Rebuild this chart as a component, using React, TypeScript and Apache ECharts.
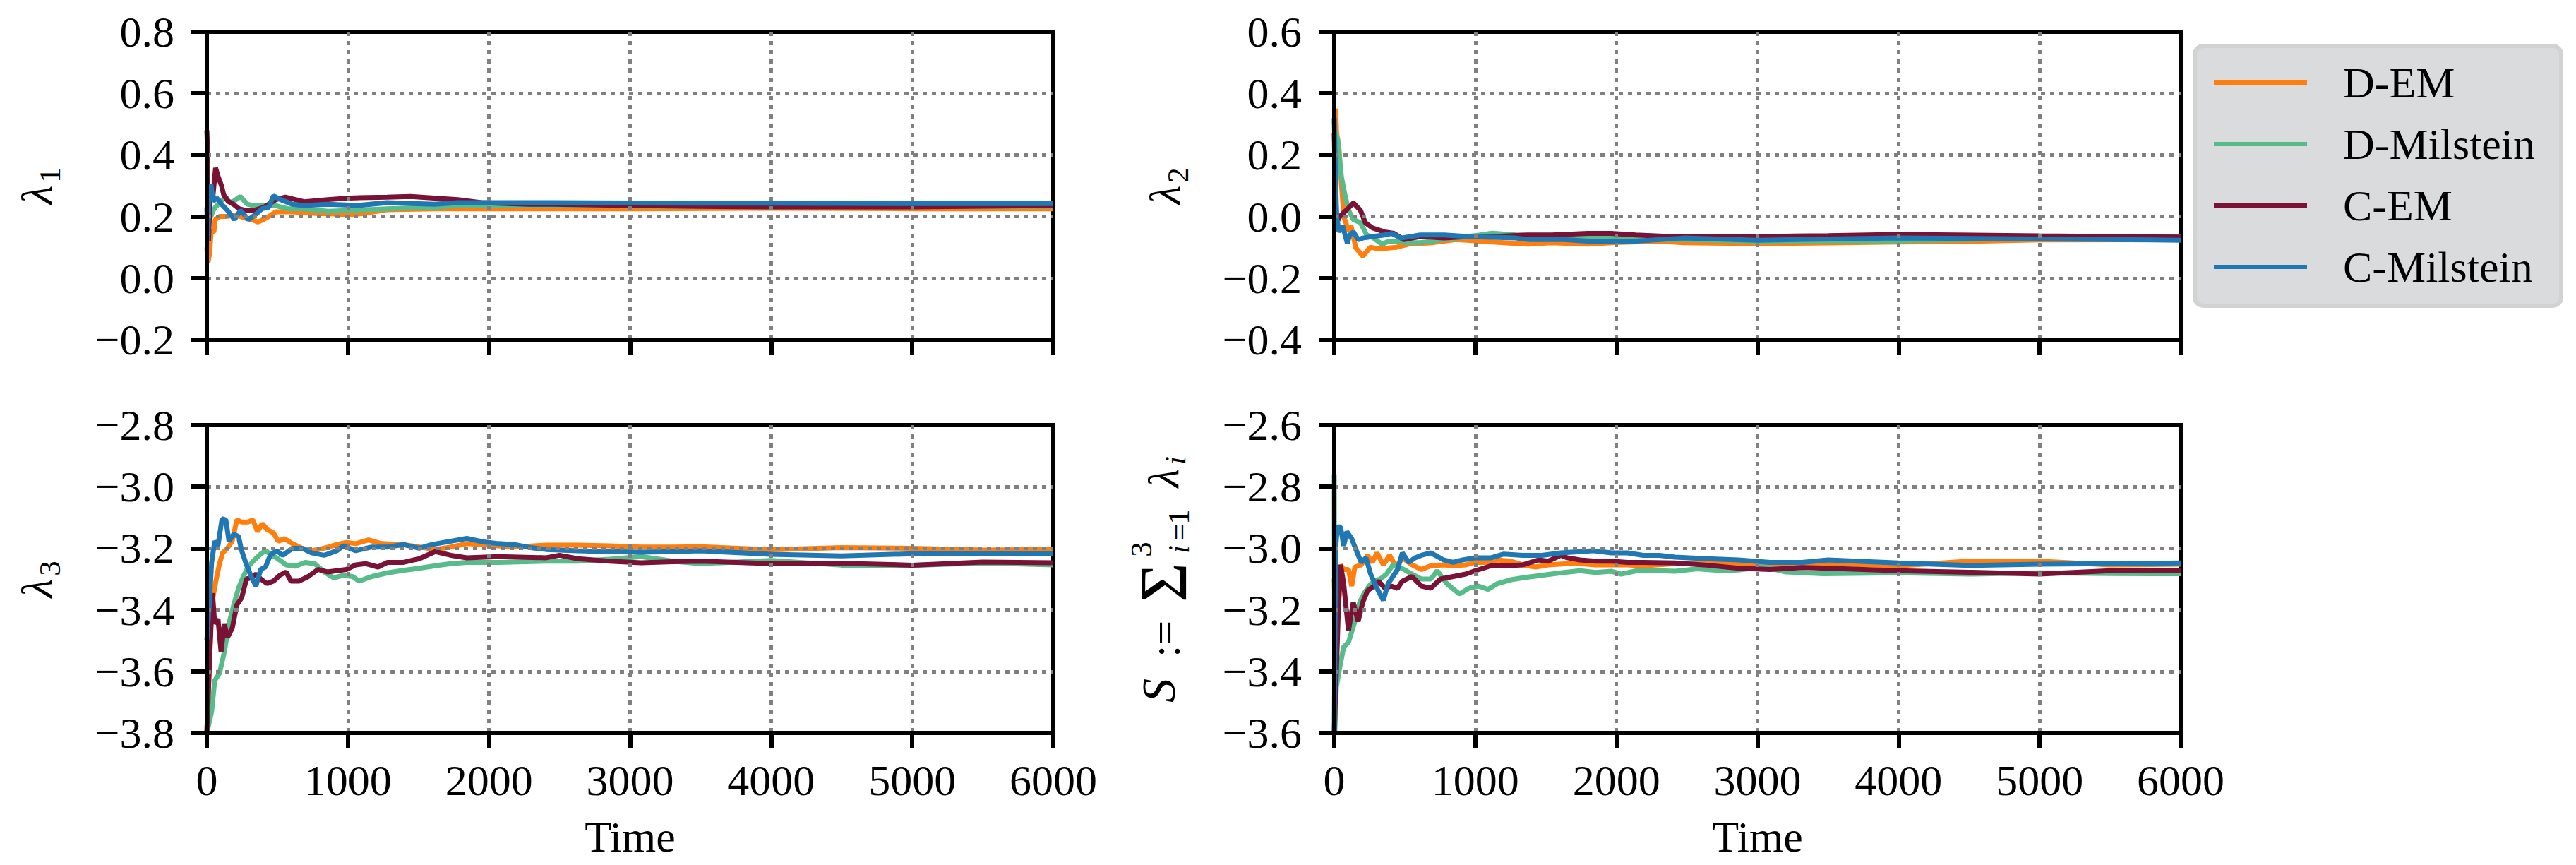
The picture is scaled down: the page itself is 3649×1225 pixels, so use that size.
import { useEffect, useRef } from 'react';
import * as echarts from 'echarts';

// series names / colours, in drawing order (last one on top)
const NAMES = ['D-EM', 'D-Milstein', 'C-EM', 'C-Milstein'];
const COLORS = ['#FF7F0E', '#57BB8A', '#7A1236', '#1F77B4'];

const TIME_MAX = 6000;
const TIME_STEP = 1000;
// y ranges per panel: [min, max], ticks every 0.2
const Y_RANGES = [
  [-0.2, 0.8],
  [-0.4, 0.6],
  [-3.8, -2.8],
  [-3.6, -2.6],
];

// ---- panel 1: lambda_1 ----
const D_EM_1 = [[0, 0.1], [8, 0.05], [20, 0.08], [30, 0.15], [50, 0.15], [60, 0.19], [90, 0.2], [137, 0.2], [204, 0.205], [240, 0.2], [271, 0.195], [320, 0.19], [363, 0.182], [400, 0.19], [439, 0.2], [490, 0.215], [606, 0.215], [774, 0.21], [900, 0.208], [1008, 0.205], [1109, 0.21], [1276, 0.222], [1611, 0.225], [1946, 0.225], [2449, 0.225], [3000, 0.225], [4000, 0.227], [5000, 0.225], [6000, 0.225]];
const D_MIL_1 = [[0, 0.2], [20, 0.19], [45, 0.22], [60, 0.23], [100, 0.25], [137, 0.263], [160, 0.245], [190, 0.25], [238, 0.265], [288, 0.24], [338, 0.235], [405, 0.235], [490, 0.235], [573, 0.225], [690, 0.225], [858, 0.217], [1025, 0.22], [1276, 0.225], [1611, 0.23], [1779, 0.235], [2449, 0.235], [3000, 0.234], [4000, 0.232], [5000, 0.233], [6000, 0.233]];
const C_EM_1 = [[0, 0.48], [5, 0.42], [12, 0.12], [25, 0.28], [40, 0.25], [62, 0.358], [80, 0.33], [104, 0.3], [120, 0.27], [150, 0.25], [188, 0.24], [230, 0.225], [271, 0.22], [338, 0.22], [405, 0.23], [490, 0.255], [556, 0.263], [690, 0.248], [858, 0.255], [1008, 0.26], [1276, 0.263], [1444, 0.265], [1611, 0.26], [1779, 0.255], [1946, 0.245], [2281, 0.24], [2449, 0.24], [3000, 0.236], [3500, 0.233], [4000, 0.231], [5000, 0.231], [6000, 0.236]];
const C_MIL_1 = [[0, 0.23], [8, 0.12], [15, 0.28], [28, 0.305], [45, 0.25], [70, 0.26], [104, 0.24], [146, 0.22], [196, 0.19], [238, 0.22], [296, 0.19], [355, 0.21], [389, 0.225], [439, 0.23], [472, 0.267], [523, 0.255], [606, 0.24], [690, 0.236], [858, 0.24], [1075, 0.236], [1276, 0.245], [1611, 0.24], [1779, 0.245], [2449, 0.245], [3000, 0.244], [4000, 0.243], [5000, 0.242], [6000, 0.242]];

// ---- panel 2: lambda_2 ----
const D_EM_2 = [[0, 0.3], [10, 0.35], [17, 0.27], [34, 0.22], [42, 0.16], [68, 0.0], [102, -0.048], [119, -0.03], [153, -0.102], [203, -0.129], [254, -0.1], [322, -0.105], [441, -0.1], [525, -0.09], [695, -0.085], [864, -0.075], [1034, -0.08], [1203, -0.085], [1373, -0.09], [1542, -0.085], [1797, -0.09], [1966, -0.085], [2305, -0.08], [2475, -0.085], [3000, -0.088], [3500, -0.086], [4000, -0.083], [4500, -0.081], [5000, -0.076], [6000, -0.075]];
const D_MIL_2 = [[0, 0.28], [25, 0.25], [51, 0.128], [76, 0.07], [102, 0.02], [136, -0.01], [186, -0.02], [230, -0.06], [271, -0.068], [339, -0.09], [390, -0.08], [441, -0.08], [508, -0.085], [610, -0.085], [695, -0.08], [780, -0.075], [864, -0.07], [1034, -0.06], [1119, -0.054], [1288, -0.06], [1627, -0.065], [1966, -0.07], [2305, -0.075], [2475, -0.075], [3000, -0.08], [4000, -0.079], [5000, -0.07], [5500, -0.064], [6000, -0.065]];
const C_EM_2 = [[0, 0.27], [8, 0.1], [17, -0.02], [40, 0.0], [85, 0.02], [136, 0.044], [186, 0.02], [220, -0.02], [271, -0.037], [356, -0.05], [424, -0.055], [492, -0.075], [610, -0.065], [780, -0.07], [949, -0.065], [1119, -0.065], [1373, -0.06], [1542, -0.06], [1797, -0.055], [1966, -0.055], [2136, -0.06], [2390, -0.065], [3000, -0.065], [3500, -0.062], [4000, -0.058], [5000, -0.063], [6000, -0.067]];
const C_MIL_2 = [[0, 0.32], [8, 0.15], [17, 0.0], [34, -0.05], [59, -0.03], [93, -0.087], [110, -0.06], [136, -0.05], [169, -0.075], [203, -0.07], [271, -0.065], [356, -0.06], [407, -0.055], [475, -0.07], [610, -0.06], [780, -0.06], [949, -0.065], [1288, -0.07], [1373, -0.075], [1627, -0.075], [1797, -0.08], [2136, -0.08], [2475, -0.07], [3000, -0.077], [3500, -0.073], [4000, -0.07], [5000, -0.073], [6000, -0.077]];

// ---- panel 3: lambda_3 ----
const D_EM_3 = [[0, -3.8], [15, -3.6], [34, -3.384], [67, -3.3], [90, -3.25], [112, -3.215], [146, -3.2], [180, -3.177], [213, -3.108], [247, -3.115], [292, -3.115], [326, -3.108], [360, -3.146], [393, -3.12], [427, -3.139], [472, -3.15], [506, -3.177], [551, -3.169], [607, -3.185], [674, -3.2], [742, -3.208], [831, -3.2], [921, -3.188], [989, -3.181], [1056, -3.185], [1146, -3.173], [1236, -3.185], [1393, -3.188], [1506, -3.196], [1618, -3.204], [1730, -3.196], [1843, -3.185], [1955, -3.188], [2180, -3.196], [2404, -3.19], [2629, -3.19], [2854, -3.192], [3079, -3.196], [3303, -3.196], [3500, -3.195], [4000, -3.205], [4500, -3.198], [5000, -3.2], [5500, -3.206], [6000, -3.204]];
const D_MIL_3 = [[0, -3.8], [34, -3.73], [56, -3.63], [90, -3.606], [124, -3.537], [157, -3.445], [191, -3.384], [225, -3.33], [258, -3.292], [292, -3.261], [337, -3.238], [382, -3.219], [416, -3.208], [449, -3.219], [494, -3.231], [562, -3.254], [629, -3.258], [697, -3.246], [764, -3.25], [831, -3.277], [899, -3.296], [966, -3.288], [1034, -3.292], [1079, -3.307], [1169, -3.292], [1281, -3.28], [1393, -3.272], [1506, -3.265], [1618, -3.257], [1730, -3.25], [1843, -3.246], [2067, -3.246], [2404, -3.242], [2629, -3.242], [2854, -3.236], [3079, -3.227], [3303, -3.242], [3500, -3.25], [4000, -3.24], [4500, -3.255], [5000, -3.256], [5500, -3.248], [6000, -3.254]];
const C_EM_3 = [[0, -3.8], [22, -3.537], [40, -3.346], [56, -3.445], [79, -3.43], [101, -3.537], [124, -3.445], [146, -3.49], [180, -3.46], [213, -3.384], [247, -3.361], [281, -3.3], [315, -3.296], [348, -3.284], [382, -3.3], [427, -3.315], [472, -3.307], [517, -3.288], [562, -3.277], [596, -3.307], [652, -3.307], [719, -3.292], [787, -3.269], [854, -3.277], [921, -3.273], [989, -3.269], [1056, -3.254], [1124, -3.25], [1213, -3.261], [1281, -3.246], [1393, -3.246], [1506, -3.234], [1618, -3.211], [1730, -3.223], [1843, -3.231], [2067, -3.227], [2404, -3.231], [2500, -3.223], [2629, -3.234], [2854, -3.242], [3079, -3.247], [3303, -3.244], [3500, -3.242], [4000, -3.25], [4500, -3.249], [5000, -3.255], [5500, -3.245], [6000, -3.247]];
const C_MIL_3 = [[0, -3.5], [18, -3.38], [34, -3.246], [56, -3.177], [79, -3.192], [108, -3.104], [135, -3.108], [157, -3.177], [191, -3.154], [225, -3.162], [247, -3.208], [281, -3.254], [315, -3.292], [348, -3.323], [382, -3.269], [416, -3.261], [449, -3.223], [494, -3.208], [539, -3.223], [607, -3.2], [674, -3.2], [742, -3.215], [831, -3.223], [921, -3.208], [966, -3.192], [1056, -3.208], [1169, -3.196], [1281, -3.196], [1393, -3.188], [1506, -3.2], [1596, -3.188], [1730, -3.177], [1843, -3.168], [1955, -3.179], [2067, -3.185], [2180, -3.188], [2292, -3.198], [2404, -3.204], [2629, -3.208], [2854, -3.211], [3079, -3.213], [3303, -3.211], [3500, -3.208], [4000, -3.22], [4500, -3.225], [5000, -3.218], [5500, -3.217], [6000, -3.218]];

// ---- panel 4: S = sum of lambdas ----
const D_EM_4 = [[0, -3.1], [10, -3.23], [30, -3.2], [45, -3.054], [67, -3.069], [101, -3.069], [124, -3.123], [146, -3.061], [191, -3.054], [236, -3.023], [270, -3.046], [303, -3.015], [348, -3.054], [393, -3.023], [438, -3.061], [483, -3.031], [551, -3.054], [618, -3.069], [685, -3.057], [775, -3.054], [843, -3.057], [933, -3.054], [1000, -3.046], [1067, -3.046], [1157, -3.038], [1247, -3.042], [1337, -3.054], [1427, -3.061], [1517, -3.054], [1652, -3.05], [1742, -3.05], [1854, -3.054], [1966, -3.054], [2079, -3.054], [2191, -3.057], [2416, -3.05], [2640, -3.046], [2865, -3.052], [3090, -3.054], [3315, -3.054], [3500, -3.05], [4000, -3.057], [4500, -3.042], [5000, -3.042], [5500, -3.054], [6000, -3.052]];
const D_MIL_4 = [[0, -2.76], [4, -3.6], [15, -3.45], [34, -3.4], [67, -3.32], [101, -3.306], [146, -3.238], [180, -3.176], [213, -3.146], [247, -3.123], [281, -3.107], [326, -3.1], [371, -3.084], [416, -3.054], [461, -3.061], [494, -3.069], [551, -3.084], [618, -3.1], [685, -3.1], [730, -3.073], [798, -3.115], [888, -3.149], [955, -3.13], [1022, -3.123], [1090, -3.134], [1157, -3.115], [1247, -3.103], [1337, -3.096], [1472, -3.088], [1607, -3.08], [1742, -3.073], [1854, -3.079], [1966, -3.075], [2034, -3.084], [2146, -3.073], [2303, -3.073], [2416, -3.075], [2573, -3.067], [2753, -3.073], [2865, -3.071], [3045, -3.06], [3202, -3.077], [3467, -3.083], [4000, -3.08], [4500, -3.084], [5000, -3.08], [5500, -3.082], [6000, -3.083]];
const C_EM_4 = [[0, -3.6], [15, -3.4], [30, -3.19], [45, -3.054], [67, -3.115], [101, -3.268], [135, -3.176], [169, -3.238], [202, -3.176], [236, -3.138], [281, -3.123], [315, -3.107], [360, -3.13], [404, -3.123], [449, -3.13], [483, -3.107], [551, -3.092], [618, -3.123], [685, -3.13], [753, -3.1], [843, -3.092], [933, -3.084], [1000, -3.073], [1112, -3.057], [1225, -3.057], [1337, -3.054], [1449, -3.038], [1517, -3.042], [1607, -3.023], [1652, -3.031], [1742, -3.038], [1854, -3.042], [1966, -3.042], [2079, -3.046], [2191, -3.046], [2416, -3.048], [2640, -3.055], [2865, -3.065], [3090, -3.069], [3315, -3.063], [3500, -3.065], [4000, -3.073], [4500, -3.078], [5000, -3.084], [5500, -3.073], [6000, -3.073]];
const C_MIL_4 = [[0, -3.6], [10, -3.0], [22, -2.931], [45, -2.931], [67, -2.992], [90, -2.946], [124, -2.969], [157, -3.008], [191, -3.046], [225, -3.031], [258, -3.084], [303, -3.13], [348, -3.169], [382, -3.115], [416, -3.092], [449, -3.069], [483, -3.015], [528, -3.046], [573, -3.031], [618, -3.023], [685, -3.015], [775, -3.038], [843, -3.046], [910, -3.038], [1000, -3.031], [1112, -3.031], [1202, -3.019], [1337, -3.023], [1472, -3.023], [1607, -3.015], [1742, -3.011], [1831, -3.008], [1966, -3.015], [2079, -3.015], [2191, -3.023], [2303, -3.023], [2416, -3.029], [2640, -3.034], [2865, -3.038], [2978, -3.042], [3090, -3.046], [3315, -3.046], [3500, -3.038], [4000, -3.048], [4500, -3.056], [5000, -3.052], [5500, -3.05], [6000, -3.048]];

const PANELS = [
  [D_EM_1, D_MIL_1, C_EM_1, C_MIL_1],
  [D_EM_2, D_MIL_2, C_EM_2, C_MIL_2],
  [D_EM_3, D_MIL_3, C_EM_3, C_MIL_3],
  [D_EM_4, D_MIL_4, C_EM_4, C_MIL_4],
];

const FONT = "'Liberation Serif', 'Times New Roman', serif";
const GRIDS = [
  { left: 293, top: 45 },
  { left: 1890, top: 45 },
  { left: 293, top: 602 },
  { left: 1890, top: 602 },
];
const GRID_W = 1199;
const GRID_H = 436;

const fmtTick = (v: number) => {
  const r = Math.round(v * 10) / 10;
  const s = Math.abs(r).toFixed(1);
  return r < 0 ? '\u2212' + s : s;
};

// rotated text piece for the y-axis titles
const rot = (text: string, x: number, y: number, size: number, italic = false) => ({
  type: 'text',
  x,
  y,
  rotation: Math.PI / 2,
  z: 10,
  style: {
    text,
    fontSize: size,
    fontFamily: FONT,
    fontStyle: italic ? 'italic' : 'normal',
    fill: '#000',
    align: 'center',
    verticalAlign: 'middle',
  },
});

export default function App() {
  const ref = useRef<HTMLDivElement>(null);

  useEffect(() => {
    if (!ref.current) return;
    const chart = echarts.init(ref.current, null, { renderer: 'svg' });

    const grid = GRIDS.map((g) => ({
      ...g,
      width: GRID_W,
      height: GRID_H,
      show: true,
      borderColor: '#000',
      borderWidth: 6,
      backgroundColor: 'transparent',
    }));

    const xAxis = GRIDS.map((_, i) => ({
      type: 'value',
      gridIndex: i,
      min: 0,
      max: TIME_MAX,
      interval: TIME_STEP,
      z: 3,
      name: i >= 2 ? 'Time' : '',
      nameLocation: 'middle',
      nameGap: 116,
      nameTextStyle: { fontSize: 62, fontFamily: FONT, color: '#000' },
      axisLine: { show: true, onZero: false, lineStyle: { color: '#000', width: 6 } },
      axisTick: { show: true, length: 22, lineStyle: { color: '#000', width: 6 } },
      axisLabel: {
        show: i >= 2,
        fontSize: 62,
        fontFamily: FONT,
        color: '#000',
        margin: 36,
        showMinLabel: true,
        showMaxLabel: true,
        formatter: (v: number) => String(Math.round(v)),
      },
      splitLine: {
        show: true,
        showMinLine: false,
        showMaxLine: false,
        lineStyle: { color: '#808080', width: 5, type: [6, 7] },
      },
    }));

    const yAxis = Y_RANGES.map(([min, max], i) => ({
      type: 'value',
      gridIndex: i,
      min,
      max,
      interval: 0.2,
      z: 3,
      axisLine: { show: true, onZero: false, lineStyle: { color: '#000', width: 6 } },
      axisTick: { show: true, length: 22, lineStyle: { color: '#000', width: 6 } },
      axisLabel: {
        fontSize: 62,
        fontFamily: FONT,
        color: '#000',
        margin: 46,
        showMinLabel: true,
        showMaxLabel: true,
        formatter: fmtTick,
      },
      splitLine: {
        show: true,
        showMinLine: false,
        showMaxLine: false,
        lineStyle: { color: '#808080', width: 5, type: [6, 7] },
      },
    }));

    const series: any[] = [];
    PANELS.forEach((panel, p) => {
      panel.forEach((data, k) => {
        series.push({
          name: NAMES[k],
          type: 'line',
          xAxisIndex: p,
          yAxisIndex: p,
          data,
          showSymbol: false,
          symbol: 'none',
          color: COLORS[k],
          itemStyle: { color: COLORS[k] },
          lineStyle: { color: COLORS[k], width: 7 },
          z: 2 + k * 0.01,
        });
      });
    });

    chart.setOption({
      animation: false,
      backgroundColor: '#fff',
      grid,
      xAxis,
      yAxis,
      series,
      legend: {
        data: NAMES,
        orient: 'vertical',
        left: 3131,
        top: 77,
        icon: 'rect',
        itemWidth: 132,
        itemHeight: 6,
        itemGap: 17,
        selectedMode: false,
        z: 5,
        textStyle: {
          fontSize: 62,
          fontFamily: FONT,
          color: '#000',
          lineHeight: 70,
          padding: [0, 0, 0, 46],
        },
      },
      graphic: [
        {
          type: 'rect',
          z: 1,
          shape: { x: 3109, y: 65, width: 519, height: 368, r: 12 },
          style: { fill: '#DADBDD', stroke: '#D2D2D2', lineWidth: 6 },
        },
        // lambda_1
        rot('λ', 52, 276, 62, true),
        rot('1', 70, 248, 43),
        // lambda_2
        rot('λ', 1650, 276, 62, true),
        rot('2', 1668, 248, 43),
        // lambda_3
        rot('λ', 52, 833, 62, true),
        rot('3', 70, 805, 43),
        // S := sum_{i=1}^{3} lambda_i
        rot('S', 1641, 978, 68, true),
        rot(':=', 1650, 905, 62),
        rot('Σ', 1648, 825, 96),
        rot('3', 1616, 778, 43),
        rot('i', 1669, 778, 43, true),
        rot('=', 1669, 754, 43),
        rot('1', 1669, 732, 43),
        rot('λ', 1648, 677, 62, true),
        rot('i', 1664, 652, 43, true),
      ],
    });

    return () => chart.dispose();
  }, []);

  return (
    <div
      ref={ref}
      style={{ position: 'absolute', left: 0, top: 0, width: 3649, height: 1225, background: '#fff' }}
    />
  );
}
